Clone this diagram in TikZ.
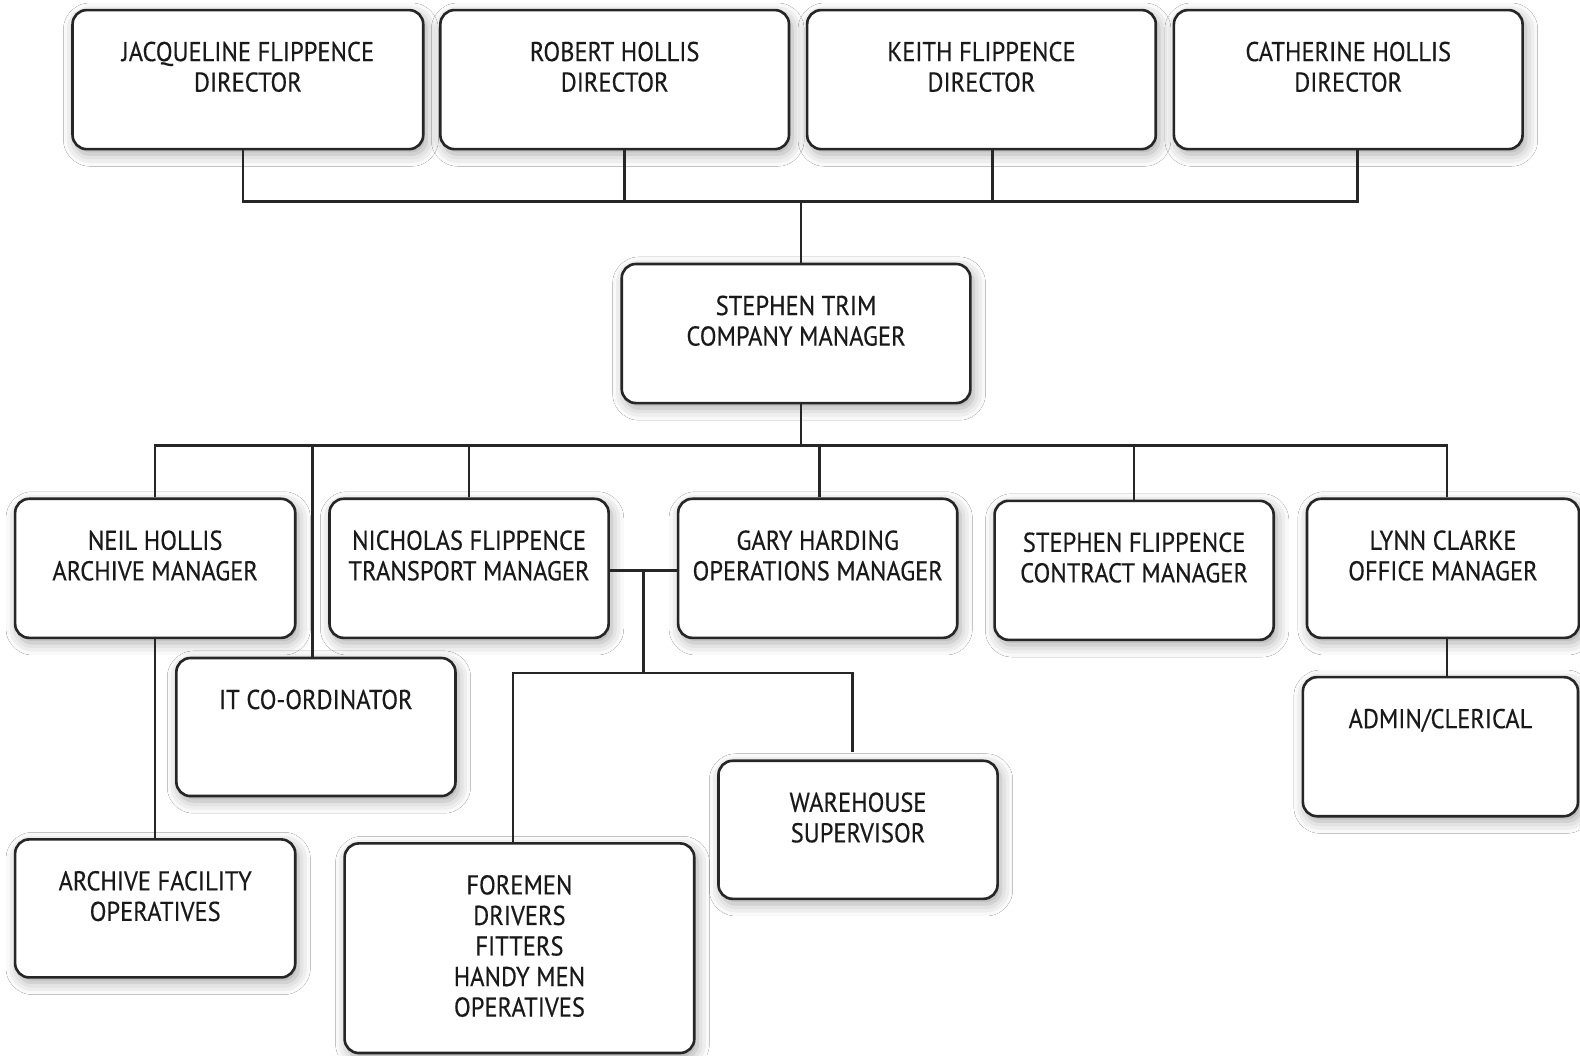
\documentclass[tikz,border=0pt]{standalone}
\usepackage{fontspec}
\newfontfamily\orgfont{PT Sans}[FakeStretch=0.9,FakeBold=0.4]
\usetikzlibrary{shadows.blur,calc}
\begin{document}
\begin{tikzpicture}[x=1pt,y=-1pt,
  orgbox/.style={draw=black!85,line width=2.6pt,rounded corners=14pt,fill=white,
    blur shadow={shadow xshift=3pt,shadow yshift=-5pt,shadow blur radius=12pt,shadow opacity=35},
    inner sep=0pt},
  lbl/.style={anchor=north,yshift=-32.5pt,inner sep=0pt,align=center,
    font=\orgfont\fontsize{27}{30.3}\selectfont,text=black!90},
  conn/.style={draw=black!85,line width=2.6pt}]
\path[use as bounding box,fill=white] (0,0) rectangle (1568,1047);
% directors
\node[orgbox,minimum width=348pt,minimum height=138pt,label={[lbl]north:{JACQUELINE FLIPPENCE\\DIRECTOR}}] (jf) at (246,79) {};
\node[orgbox,minimum width=346pt,minimum height=138pt,label={[lbl]north:{ROBERT HOLLIS\\DIRECTOR}}] (rh) at (610,79) {};
\node[orgbox,minimum width=346pt,minimum height=138pt,label={[lbl]north:{KEITH FLIPPENCE\\DIRECTOR}}] (kf) at (974,79) {};
\node[orgbox,minimum width=346pt,minimum height=138pt,label={[lbl]north:{CATHERINE HOLLIS\\DIRECTOR}}] (ch) at (1338,79) {};
% company manager
\node[orgbox,minimum width=346pt,minimum height=138pt,label={[lbl]north:{STEPHEN TRIM\\COMPANY MANAGER}}] (st) at (790,331) {};
% managers
\node[orgbox,minimum width=278pt,minimum height=138pt,label={[lbl]north:{NEIL HOLLIS\\ARCHIVE MANAGER}}] (nh) at (154,564) {};
\node[orgbox,minimum width=277pt,minimum height=138pt,label={[lbl]north:{NICHOLAS FLIPPENCE\\TRANSPORT MANAGER}}] (nf) at (465.5,564) {};
\node[orgbox,minimum width=277pt,minimum height=138pt,label={[lbl]north:{GARY HARDING\\OPERATIONS MANAGER}}] (gh) at (811.5,564) {};
\node[orgbox,minimum width=277pt,minimum height=138pt,label={[lbl]north:{STEPHEN FLIPPENCE\\CONTRACT MANAGER}}] (sf) at (1125.5,566) {};
\node[orgbox,minimum width=270pt,minimum height=138pt,label={[lbl]north:{LYNN CLARKE\\OFFICE MANAGER}}] (lc) at (1432,564) {};
% lower level
\node[orgbox,minimum width=277pt,minimum height=137pt,label={[lbl]north:{IT CO-ORDINATOR}}] (it) at (313.5,721.5) {};
\node[orgbox,minimum width=278pt,minimum height=137pt,label={[lbl]north:{ARCHIVE FACILITY\\OPERATIVES}}] (af) at (154,901.5) {};
\node[orgbox,minimum width=347pt,minimum height=208pt,label={[lbl]north:{FOREMEN\\DRIVERS\\FITTERS\\HANDY MEN\\OPERATIVES}}] (fo) at (515.5,941) {};
\node[orgbox,minimum width=277pt,minimum height=137pt,label={[lbl]north:{WAREHOUSE\\SUPERVISOR}}] (wh) at (851.5,823.5) {};
\node[orgbox,minimum width=273pt,minimum height=138pt,label={[lbl]north:{ADMIN/CLERICAL}}] (ac) at (1429.5,741) {};
% connectors
\coordinate (bus1) at (795,200);
\coordinate (bus2) at (795,442);
\draw[conn] ([xshift=-5pt]jf.south) |- (bus1) -| ([xshift=9pt]ch.south);
\draw[conn] ([xshift=10pt]rh.south) -- ([xshift=10pt]rh.south |- bus1);
\draw[conn] ([xshift=11pt]kf.south) -- ([xshift=11pt]kf.south |- bus1);
\draw[conn] (bus1) -- (bus1 |- st.north);
\draw[conn] (bus1 |- st.south) -- (bus2);
\draw[conn] (nh.north) |- (bus2) -| ([xshift=4pt]lc.north);
\draw[conn] ([xshift=-3.5pt]it.north) -- ([xshift=-3.5pt]it.north |- bus2);
\draw[conn] (nf.north) -- (nf.north |- bus2);
\draw[conn] ([xshift=1.5pt]gh.north) -- ([xshift=1.5pt]gh.north |- bus2);
\draw[conn] (sf.north) -- (sf.north |- bus2);
\draw[conn] (nh.south) -- (af.north);
\draw[conn] ([xshift=4pt]lc.south) -- ([xshift=4pt]lc.south |- ac.north);
\draw[conn] ([yshift=-2pt]nf.east) -- ([yshift=-2pt]gh.west);
\coordinate (j1) at (638.5,566);
\coordinate (j2) at (638.5,668);
\draw[conn] (j1) -- (j2);
\draw[conn] ([xshift=-6.5pt]fo.north) |- (j2) -| ([xshift=-5.5pt,yshift=7pt]wh.north);
\end{tikzpicture}
\end{document}
